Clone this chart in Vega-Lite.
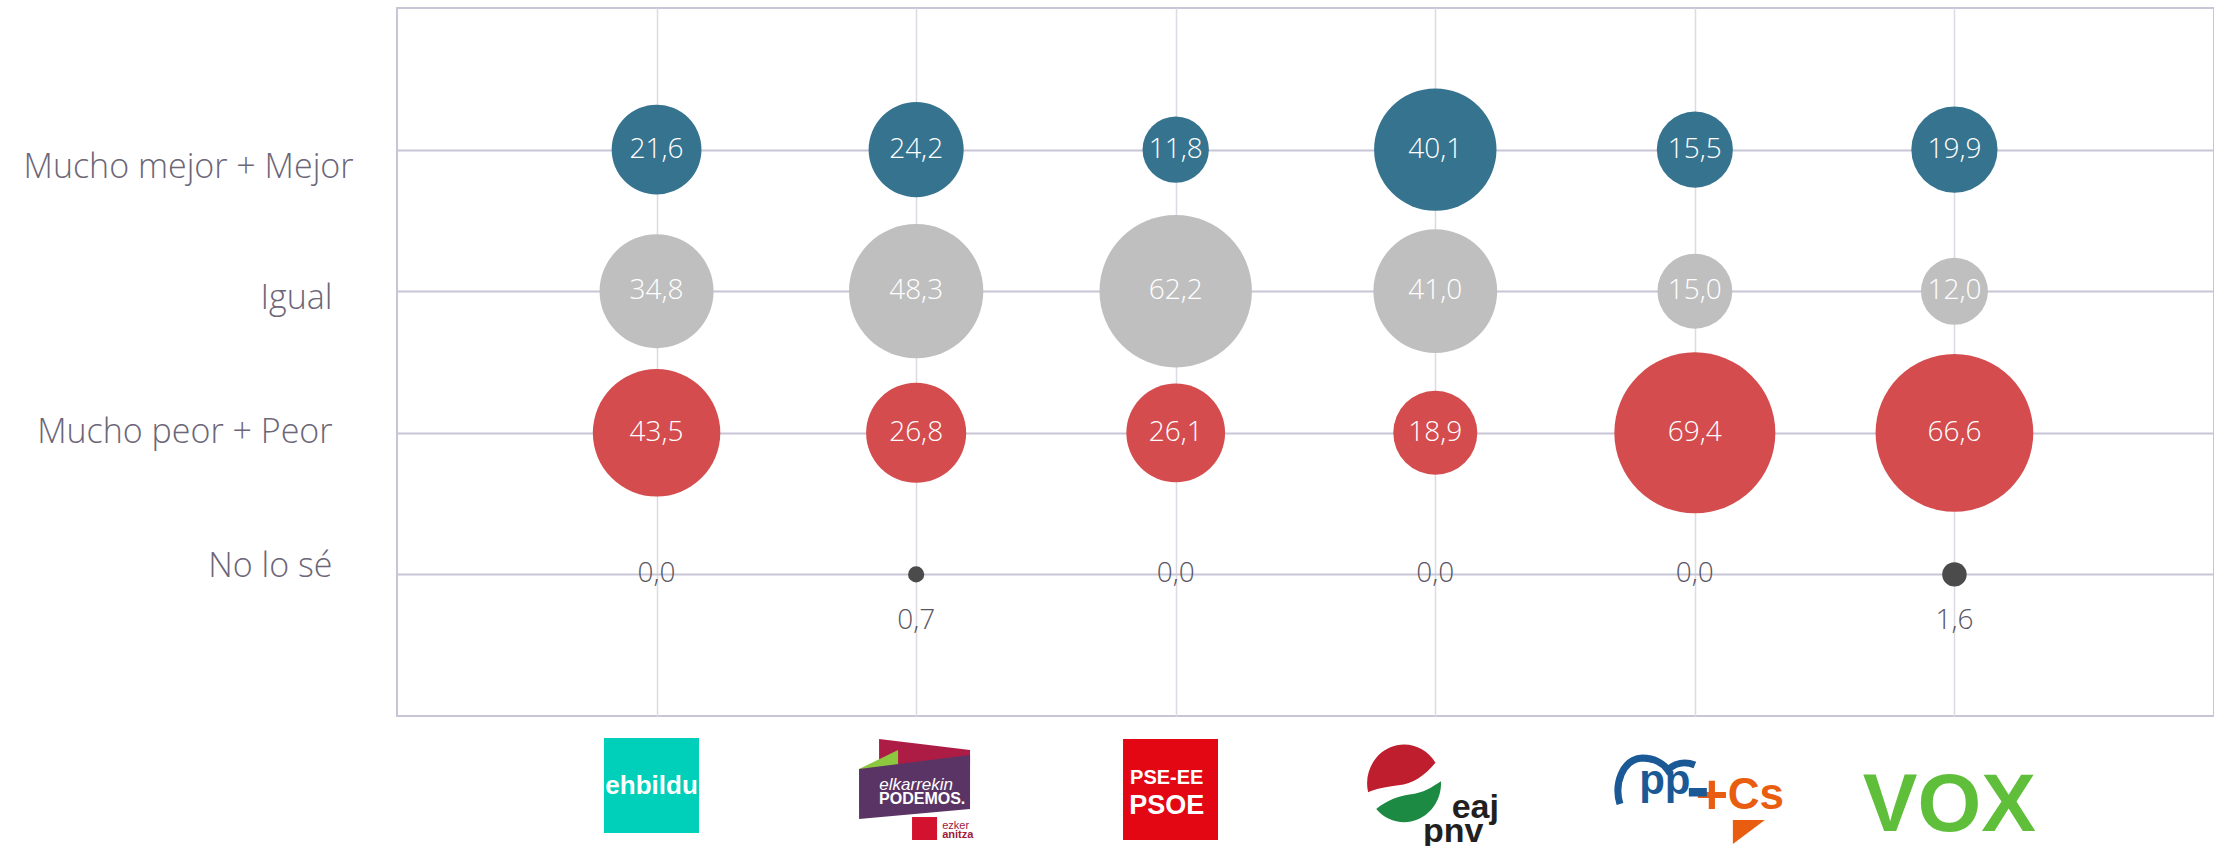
{
  "$schema": "https://vega.github.io/schema/vega-lite/v6.json",
  "background": "white",
  "padding": {"left": 22, "top": 7, "right": 0, "bottom": 0},
  "spacing": 13,
  "config": {
    "locale": {"number": {"decimal": ",", "thousands": ".", "grouping": [3], "currency": ["", " €"]}},
    "font": "Open Sans"
  },
  "datasets": {
    "resp": [
      {"party": "EH Bildu", "cat": "Mucho mejor + Mejor", "value": 21.6},
      {"party": "EH Bildu", "cat": "Igual", "value": 34.8},
      {"party": "EH Bildu", "cat": "Mucho peor + Peor", "value": 43.5},
      {"party": "EH Bildu", "cat": "No lo sé", "value": 0.0},
      {"party": "Elkarrekin Podemos", "cat": "Mucho mejor + Mejor", "value": 24.2},
      {"party": "Elkarrekin Podemos", "cat": "Igual", "value": 48.3},
      {"party": "Elkarrekin Podemos", "cat": "Mucho peor + Peor", "value": 26.8},
      {"party": "Elkarrekin Podemos", "cat": "No lo sé", "value": 0.7},
      {"party": "PSE-EE PSOE", "cat": "Mucho mejor + Mejor", "value": 11.8},
      {"party": "PSE-EE PSOE", "cat": "Igual", "value": 62.2},
      {"party": "PSE-EE PSOE", "cat": "Mucho peor + Peor", "value": 26.1},
      {"party": "PSE-EE PSOE", "cat": "No lo sé", "value": 0.0},
      {"party": "EAJ-PNV", "cat": "Mucho mejor + Mejor", "value": 40.1},
      {"party": "EAJ-PNV", "cat": "Igual", "value": 41.0},
      {"party": "EAJ-PNV", "cat": "Mucho peor + Peor", "value": 18.9},
      {"party": "EAJ-PNV", "cat": "No lo sé", "value": 0.0},
      {"party": "PP+Cs", "cat": "Mucho mejor + Mejor", "value": 15.5},
      {"party": "PP+Cs", "cat": "Igual", "value": 15.0},
      {"party": "PP+Cs", "cat": "Mucho peor + Peor", "value": 69.4},
      {"party": "PP+Cs", "cat": "No lo sé", "value": 0.0},
      {"party": "Vox", "cat": "Mucho mejor + Mejor", "value": 19.9},
      {"party": "Vox", "cat": "Igual", "value": 12.0},
      {"party": "Vox", "cat": "Mucho peor + Peor", "value": 66.6},
      {"party": "Vox", "cat": "No lo sé", "value": 1.6}
    ],
    "logos": [
      {"party": "EH Bildu", "piece": "bildu_tile", "label": ""},
      {"party": "EH Bildu", "piece": "bildu_t", "label": "ehbildu"},
      {"party": "Elkarrekin Podemos", "piece": "pod_crimson", "label": ""},
      {"party": "Elkarrekin Podemos", "piece": "pod_lime", "label": ""},
      {"party": "Elkarrekin Podemos", "piece": "pod_purple", "label": ""},
      {"party": "Elkarrekin Podemos", "piece": "pod_icon", "label": ""},
      {"party": "Elkarrekin Podemos", "piece": "pod_t1", "label": "elkarrekin"},
      {"party": "Elkarrekin Podemos", "piece": "pod_t2", "label": "PODEMOS."},
      {"party": "Elkarrekin Podemos", "piece": "pod_t3", "label": "ezker"},
      {"party": "Elkarrekin Podemos", "piece": "pod_t4", "label": "anitza"},
      {"party": "PSE-EE PSOE", "piece": "psoe_tile", "label": ""},
      {"party": "PSE-EE PSOE", "piece": "psoe_t1", "label": "PSE-EE"},
      {"party": "PSE-EE PSOE", "piece": "psoe_t2", "label": "PSOE"},
      {"party": "EAJ-PNV", "piece": "pnv_red", "label": ""},
      {"party": "EAJ-PNV", "piece": "pnv_green", "label": ""},
      {"party": "EAJ-PNV", "piece": "pnv_t1", "label": "eaj"},
      {"party": "EAJ-PNV", "piece": "pnv_t2", "label": "pnv"},
      {"party": "PP+Cs", "piece": "pp_gull", "label": ""},
      {"party": "PP+Cs", "piece": "pp_bar", "label": ""},
      {"party": "PP+Cs", "piece": "cs_tri", "label": ""},
      {"party": "PP+Cs", "piece": "pp_t", "label": "pp"},
      {"party": "PP+Cs", "piece": "plus_t", "label": "+"},
      {"party": "PP+Cs", "piece": "cs_t", "label": "Cs"},
      {"party": "Vox", "piece": "vox_t", "label": "VOX"}
    ]
  },
  "vconcat": [
    {
      "width": 1817,
      "height": 708,
      "view": {"stroke": "#c8c6d6", "strokeWidth": 2},
      "data": {"name": "resp"},
      "encoding": {
        "x": {
          "field": "party", "type": "nominal",
          "scale": {"type": "point", "padding": 1, "domain": ["EH Bildu", "Elkarrekin Podemos", "PSE-EE PSOE", "EAJ-PNV", "PP+Cs", "Vox"]},
          "axis": {"title": null, "labels": false, "ticks": false, "domain": false, "grid": true, "gridColor": "#dcdbe3", "gridWidth": 1.5}
        },
        "y": {
          "field": "cat", "type": "nominal",
          "scale": {"type": "point", "padding": 1, "domain": ["Mucho mejor + Mejor", "Igual", "Mucho peor + Peor", "No lo sé"]},
          "axis": {
            "title": null, "domain": false, "ticks": false, "grid": true,
            "gridColor": "#c8c6d6", "gridWidth": 2,
            "labelFont": "Open Sans", "labelFontSize": 34, "labelFontWeight": 300,
            "labelColor": "#6c6677", "labelLimit": 0,
            "labelPadding": {"condition": {"test": "datum.value === 'Mucho mejor + Mejor'", "value": 44}, "value": 65},
            "labelOffset": {"condition": [
              {"test": "datum.value === 'Mucho mejor + Mejor'", "value": 18},
              {"test": "datum.value === 'Igual'", "value": 7},
              {"test": "datum.value === 'No lo sé'", "value": -8}
            ], "value": 0}
          }
        }
      },
      "layer": [
        {
          "mark": {"type": "circle", "opacity": 1},
          "encoding": {
            "size": {"field": "value", "type": "quantitative", "scale": {"type": "linear", "domain": [0, 69.4], "range": [0, 25921], "zero": true}, "legend": null},
            "color": {"field": "cat", "type": "nominal", "scale": {"domain": ["Mucho mejor + Mejor", "Igual", "Mucho peor + Peor", "No lo sé"], "range": ["#35738f", "#bfbfbf", "#d44c4e", "#4b4b4b"]}, "legend": null}
          }
        },
        {
          "transform": [{"filter": "datum.cat !== 'No lo sé'"}],
          "mark": {"type": "text", "color": "white", "fontSize": 28, "fontWeight": 300, "font": "Open Sans", "baseline": "middle", "align": "center"},
          "encoding": {"text": {"field": "value", "type": "quantitative", "format": ".1f"}}
        },
        {
          "transform": [{"filter": "datum.cat === 'No lo sé' && datum.value === 0"}],
          "mark": {"type": "text", "color": "#5a5563", "fontSize": 28, "fontWeight": 300, "font": "Open Sans", "baseline": "middle", "align": "center"},
          "encoding": {"text": {"field": "value", "type": "quantitative", "format": ".1f"}}
        },
        {
          "transform": [{"filter": "datum.cat === 'No lo sé' && datum.value > 0"}],
          "mark": {"type": "text", "color": "#5a5563", "fontSize": 28, "fontWeight": 300, "font": "Open Sans", "baseline": "middle", "align": "center", "dy": 47},
          "encoding": {"text": {"field": "value", "type": "quantitative", "format": ".1f"}}
        }
      ]
    },
    {
      "width": 1817,
      "height": 118,
      "view": {"stroke": null},
      "data": {"name": "logos"},
      "encoding": {
        "x": {
          "field": "party", "type": "nominal",
          "scale": {"type": "point", "padding": 1, "domain": ["EH Bildu", "Elkarrekin Podemos", "PSE-EE PSOE", "EAJ-PNV", "PP+Cs", "Vox"]},
          "axis": null
        }
      },
      "layer": [
        {"transform": [{"filter": "datum.piece === 'bildu_tile'"}], "mark": {"type": "point", "filled": true, "opacity": 1, "strokeWidth": 0, "size": 9025, "color": "#00cfb9", "shape": "M-1.107,-1.074H0.893V0.926H-1.107Z"}},
        {"transform": [{"filter": "datum.piece === 'bildu_t'"}], "mark": {"type": "text", "color": "white", "font": "Liberation Sans", "fontWeight": "bold", "fontSize": 26, "baseline": "alphabetic", "align": "center", "dx": -5, "dy": 5}, "encoding": {"text": {"field": "label"}}},
        {"transform": [{"filter": "datum.piece === 'pod_crimson'"}], "mark": {"type": "point", "filled": true, "opacity": 1, "strokeWidth": 0, "size": 12321, "color": "#ad1c45", "shape": "M-0.668,-0.901L0.971,-0.703L0.971,-0.45L-0.668,-0.45Z"}},
        {"transform": [{"filter": "datum.piece === 'pod_lime'"}], "mark": {"type": "point", "filled": true, "opacity": 1, "strokeWidth": 0, "size": 12321, "color": "#8dc63f", "shape": "M-1.029,-0.36L-0.326,-0.703L-0.326,-0.36Z"}},
        {"transform": [{"filter": "datum.piece === 'pod_purple'"}], "mark": {"type": "point", "filled": true, "opacity": 1, "strokeWidth": 0, "size": 12321, "color": "#5b3466", "shape": "M-1.029,-0.36L0.971,-0.613L0.971,0.36L-1.029,0.541Z"}},
        {"transform": [{"filter": "datum.piece === 'pod_icon'"}], "mark": {"type": "point", "filled": true, "opacity": 1, "strokeWidth": 0, "size": 12321, "color": "#d2122e", "shape": "M-0.074,0.505H0.377V0.919H-0.074Z"}},
        {"transform": [{"filter": "datum.piece === 'pod_t1'"}], "mark": {"type": "text", "color": "white", "font": "Liberation Sans", "fontStyle": "italic", "fontSize": 17, "baseline": "alphabetic", "align": "center", "dx": 0, "dy": 1}, "encoding": {"text": {"field": "label"}}},
        {"transform": [{"filter": "datum.piece === 'pod_t2'"}], "mark": {"type": "text", "color": "white", "font": "Liberation Sans", "fontWeight": "bold", "fontSize": 16, "baseline": "alphabetic", "align": "center", "dx": 6, "dy": 15}, "encoding": {"text": {"field": "label"}}},
        {"transform": [{"filter": "datum.piece === 'pod_t3'"}], "mark": {"type": "text", "color": "#a0183d", "font": "Liberation Sans", "fontSize": 11, "baseline": "alphabetic", "align": "left", "dx": 26, "dy": 40}, "encoding": {"text": {"field": "label"}}},
        {"transform": [{"filter": "datum.piece === 'pod_t4'"}], "mark": {"type": "text", "color": "#a0183d", "font": "Liberation Sans", "fontWeight": "bold", "fontSize": 11, "baseline": "alphabetic", "align": "left", "dx": 26, "dy": 49}, "encoding": {"text": {"field": "label"}}},
        {"transform": [{"filter": "datum.piece === 'psoe_tile'"}], "mark": {"type": "point", "filled": true, "opacity": 1, "strokeWidth": 0, "size": 10404, "color": "#e30613", "shape": "M-1.033,-0.98H0.829V1H-1.033Z"}},
        {"transform": [{"filter": "datum.piece === 'psoe_t1'"}], "mark": {"type": "text", "color": "white", "font": "Liberation Sans", "fontWeight": "bold", "fontSize": 20, "baseline": "alphabetic", "align": "center", "dx": -9, "dy": -5}, "encoding": {"text": {"field": "label"}}},
        {"transform": [{"filter": "datum.piece === 'psoe_t2'"}], "mark": {"type": "text", "color": "white", "font": "Liberation Sans", "fontWeight": "bold", "fontSize": 27, "baseline": "alphabetic", "align": "center", "dx": -9, "dy": 25}, "encoding": {"text": {"field": "label"}}},
        {"transform": [{"filter": "datum.piece === 'pnv_red'"}], "mark": {"type": "point", "filled": true, "opacity": 1, "strokeWidth": 0, "size": 5476, "color": "#be1e2d", "shape": "M-1.816,0.088A1,1.05 0 0 1 0.004,-0.712C-0.3,-0.35 -0.6,-0.15 -1.0,-0.1C-1.4,-0.05 -1.6,0 -1.816,0.088Z"}},
        {"transform": [{"filter": "datum.piece === 'pnv_green'"}], "mark": {"type": "point", "filled": true, "opacity": 1, "strokeWidth": 0, "size": 5476, "color": "#1d8a43", "shape": "M0.154,-0.212A1,1.05 0 0 1 -1.596,0.538C-1.3,0.3 -1.0,0.2 -0.7,0.15C-0.3,0.1 -0.1,-0.05 0.154,-0.212Z"}},
        {"transform": [{"filter": "datum.piece === 'pnv_t1'"}], "mark": {"type": "text", "color": "#231f20", "font": "Liberation Sans", "fontWeight": "bold", "fontSize": 34, "baseline": "alphabetic", "align": "center", "dx": 40, "dy": 29}, "encoding": {"text": {"field": "label"}}},
        {"transform": [{"filter": "datum.piece === 'pnv_t2'"}], "mark": {"type": "text", "color": "#231f20", "font": "Liberation Sans", "fontWeight": "bold", "fontSize": 34, "baseline": "alphabetic", "align": "center", "dx": 18, "dy": 53}, "encoding": {"text": {"field": "label"}}},
        {"transform": [{"filter": "datum.piece === 'pp_gull'"}], "mark": {"type": "point", "filled": false, "opacity": 1, "strokeWidth": 7, "size": 10000, "color": "#1a5896", "shape": "M-1.498,0.3C-1.62,-0.1 -1.45,-0.6 -1.05,-0.62C-0.8,-0.62 -0.62,-0.5 -0.54,-0.38C-0.4,-0.52 -0.2,-0.56 0.0,-0.48"}},
        {"transform": [{"filter": "datum.piece === 'cs_tri'"}], "mark": {"type": "point", "filled": true, "opacity": 1, "strokeWidth": 0, "size": 10000, "color": "#e85d10", "shape": "M0.76,0.62L1.4,0.62L0.76,1.1Z"}},
        {"transform": [{"filter": "datum.piece === 'pp_t'"}], "mark": {"type": "text", "color": "#1a5896", "font": "Liberation Sans", "fontWeight": "bold", "fontSize": 42, "baseline": "alphabetic", "align": "center", "dx": -30, "dy": 5}, "encoding": {"text": {"field": "label"}}},
        {"transform": [{"filter": "datum.piece === 'plus_t'"}], "mark": {"type": "text", "color": "#e85d10", "font": "Liberation Sans", "fontWeight": "bold", "fontSize": 56, "baseline": "alphabetic", "align": "center", "dx": 17, "dy": 24}, "encoding": {"text": {"field": "label"}}},
        {"transform": [{"filter": "datum.piece === 'pp_bar'"}], "mark": {"type": "point", "filled": true, "opacity": 1, "strokeWidth": 0, "size": 10000, "color": "#1a5896", "shape": "M-0.12,-0.02H0.24V0.15H-0.12Z"}},
        {"transform": [{"filter": "datum.piece === 'cs_t'"}], "mark": {"type": "text", "color": "#e85d10", "font": "Liberation Sans", "fontWeight": "bold", "fontSize": 44, "baseline": "alphabetic", "align": "center", "dx": 61, "dy": 20}, "encoding": {"text": {"field": "label"}}},
        {"transform": [{"filter": "datum.piece === 'vox_t'"}], "mark": {"type": "text", "color": "#5fbf3b", "font": "Liberation Sans", "fontWeight": "bold", "fontSize": 82, "baseline": "alphabetic", "align": "center", "dx": -5, "dy": 42}, "encoding": {"text": {"field": "label"}}}
      ]
    }
  ]
}
